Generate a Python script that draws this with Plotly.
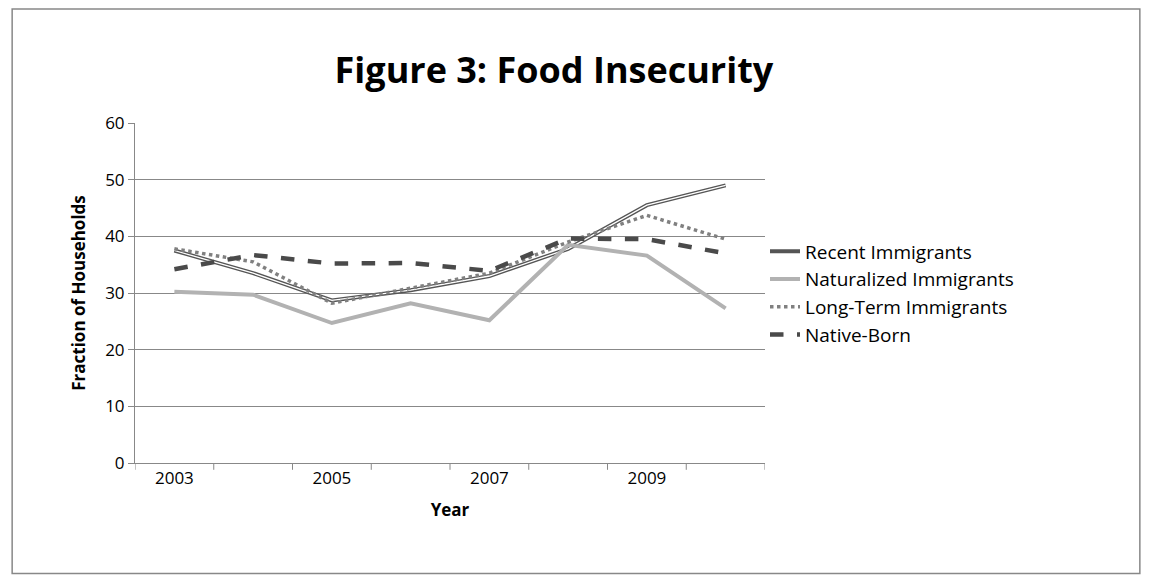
import plotly.graph_objects as go

years = ["2003", "2004", "2005", "2006", "2007", "2008", "2009", "2010"]
recent = [37.5, 33.5, 28.7, 30.5, 33.0, 37.8, 45.5, 49.0]
naturalized = [30.2, 29.7, 24.7, 28.2, 25.2, 38.5, 36.6, 27.3]
long_term = [37.8, 35.5, 28.2, 30.8, 33.5, 39.0, 43.7, 39.5]
native = [34.2, 36.7, 35.2, 35.3, 33.9, 39.6, 39.5, 37.0]
tick_years = ["2003", "2005", "2007", "2009"]

fig = go.Figure()
fig.add_trace(go.Scatter(x=years, y=recent, mode="lines", name="Recent Immigrants",
                         line=dict(color="#555555", width=4)))
fig.add_trace(go.Scatter(x=years, y=recent, mode="lines", showlegend=False, hoverinfo="skip",
                         line=dict(color="white", width=1.3)))
fig.add_trace(go.Scatter(x=years, y=naturalized, mode="lines", name="Naturalized Immigrants",
                         line=dict(color="#b2b2b2", width=4)))
fig.add_trace(go.Scatter(x=years, y=long_term, mode="lines", name="Long-Term Immigrants",
                         line=dict(color="#808080", width=3.5, dash="dot")))
fig.add_trace(go.Scatter(x=years, y=native, mode="lines", name="Native-Born",
                         line=dict(color="#4a4a4a", width=4.5, dash="dash")))

fig.update_layout(
    width=1149, height=580, plot_bgcolor="white", paper_bgcolor="white",
    font=dict(family="Open Sans, Calibri, sans-serif", size=17, color="black"),
    title=dict(text="<b>Figure 3: Food Insecurity</b>", x=0.665, xref="paper", xanchor="center",
               y=0.893, yanchor="middle", font=dict(size=36)),
    margin=dict(l=127, r=392, t=115, b=125),
    legend=dict(x=1.0, y=0.5, yanchor="middle", font=dict(size=19), tracegroupgap=6),
    shapes=[dict(type="rect", xref="paper", yref="paper", x0=-0.195, x1=1.595, y0=-0.325, y1=1.335,
                 line=dict(color="#888888", width=1.5))],
    xaxis=dict(title=dict(text="<b>Year</b>", font=dict(size=17)), tickmode="array",
               tickvals=tick_years, ticks="outside", ticklen=0, showline=True,
               linecolor="#888888", showgrid=False, range=[-0.5, 7.5]),
    yaxis=dict(title=dict(text="<b>Fraction of Households</b>", font=dict(size=17)),
               range=[0, 60], dtick=10, showgrid=True, gridcolor="#888888",
               ticks="outside", ticklen=6, tickcolor="#888888", showline=True,
               linecolor="#888888", zeroline=False),
)
for i in range(9):
    fig.add_shape(type="line", xref="x", yref="paper", x0=i - 0.5, x1=i - 0.5, y0=0, y1=-0.02,
                  line=dict(color="#888888", width=1))

fig.write_html("out.html")
